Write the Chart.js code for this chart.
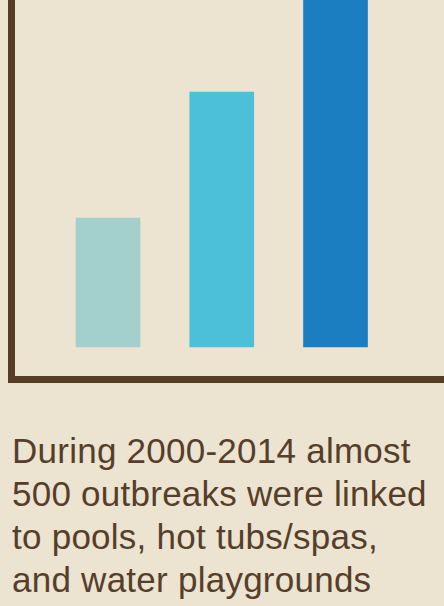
<!DOCTYPE html>
<html>
<head>
<meta charset="utf-8">
<script src="https://cdn.jsdelivr.net/npm/chart.js@4"></script>
<style>
  html, body { margin: 0; padding: 0; background: #ECE3D1; width: 444px; height: 606px; overflow: hidden; }
  #wrap { position: absolute; left: 0; top: 0; width: 444px; height: 390px; }
  #caption { position: absolute; left: 12px; top: 428.5px; font-family: "Liberation Sans", Arial, sans-serif; font-size: 35px; line-height: 43.3px; letter-spacing: 0.25px; color: #553F2B; white-space: nowrap; }
</style>
</head>
<body>
<div id="wrap"><canvas id="c"></canvas></div>
<div id="caption">During 2000-2014 almost<br>500 outbreaks were linked<br>to pools, hot tubs/spas,<br>and water playgrounds</div>
<script>
const categories = ['Bar 1', 'Bar 2', 'Bar 3'];
const values = [129, 255, 390];
const barColors = ['#A3CFCD', '#4CBFD9', '#1A7EC1'];
const axisColor = '#553D27';

const points = categories.map((c, i) => ({ x: i + 1, y: values[i] }));

new Chart(document.getElementById('c'), {
  type: 'bar',
  data: {
    datasets: [{
      data: points,
      backgroundColor: barColors,
      borderWidth: 0,
      barThickness: 64
    }]
  },
  options: {
    responsive: true,
    maintainAspectRatio: false,
    animation: false,
    layout: { padding: { left: 11, right: 1, top: 0, bottom: 10.5 } },
    plugins: { legend: { display: false }, tooltip: { enabled: false } },
    scales: {
      x: {
        type: 'linear',
        offset: false,
        min: 0.147,
        max: 3.945,
        grid: { display: false, drawTicks: false, tickLength: 0, offset: false },
        ticks: { display: false },
        border: { display: true, color: axisColor, width: 7 }
      },
      y: {
        min: -32.5,
        max: 347,
        grid: { display: false, drawTicks: false, tickLength: 0 },
        ticks: { display: false },
        border: { display: true, color: axisColor, width: 7 }
      }
    }
  }
});
</script>
</body>
</html>
